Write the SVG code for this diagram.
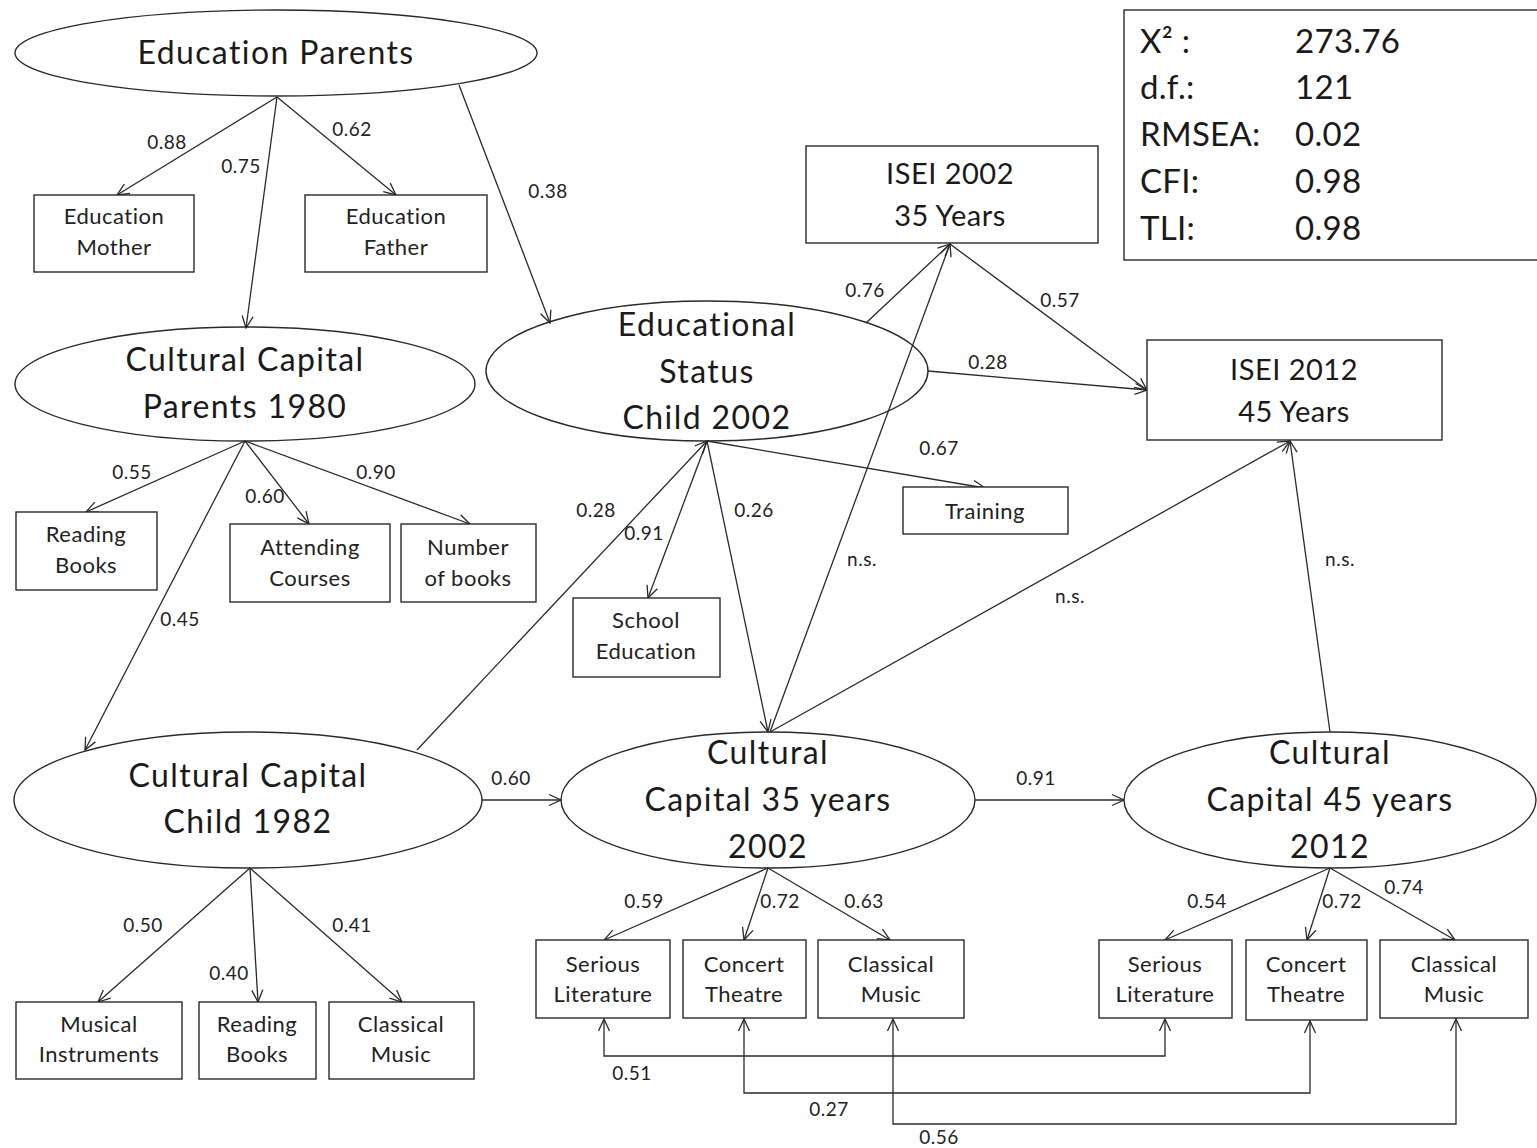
<svg xmlns="http://www.w3.org/2000/svg" width="1537" height="1148" viewBox="0 0 1537 1148">
<defs>
<marker id="ah" viewBox="0 0 14 14" refX="13" refY="7" markerWidth="14" markerHeight="14" markerUnits="userSpaceOnUse" orient="auto-start-reverse">
<path d="M1,1.5 L13,7 L1,12.5" fill="none" stroke="#2a2a2a" stroke-width="1.3"/>
</marker>
<style>
.n{fill:#fff;stroke:#2a2a2a;stroke-width:1.4}
.e{fill:none;stroke:#2a2a2a;stroke-width:1.4}
.big{font-family:Lato,"Open Sans",sans-serif;font-size:32px;letter-spacing:1.4px;fill:#1a1a1a;text-anchor:middle}
.isei{font-family:Lato,"Open Sans",sans-serif;font-size:29px;letter-spacing:0.5px;fill:#1a1a1a;text-anchor:middle}
.box{font-family:Lato,"Open Sans",sans-serif;font-size:22px;letter-spacing:0.5px;fill:#222;text-anchor:middle}
.lab{font-family:Lato,"Open Sans",sans-serif;font-size:19px;letter-spacing:0.5px;fill:#222;text-anchor:middle}
.fit{font-family:Lato,"Open Sans",sans-serif;font-size:33px;letter-spacing:0.3px;fill:#1a1a1a}
.c{fill:none;stroke:#2a2a2a;stroke-width:1.3}
.a{marker-end:url(#ah)}
.b{marker-start:url(#ah);marker-end:url(#ah)}
</style>
</defs>
<rect width="1537" height="1148" fill="#fff"/>

<g id="connectors">
<line class="c a" x1="277" y1="97" x2="117" y2="195"/>
<line class="c a" x1="277" y1="97" x2="396" y2="195"/>
<line class="c a" x1="277" y1="97" x2="246" y2="328"/>
<line class="c a" x1="459" y1="85" x2="550" y2="323"/>
<line class="c a" x1="245" y1="441" x2="86" y2="512"/>
<line class="c a" x1="245" y1="441" x2="309" y2="524"/>
<line class="c a" x1="245" y1="441" x2="470" y2="524"/>
<line class="c a" x1="245" y1="441" x2="85" y2="750"/>
<line class="c a" x1="417" y1="750" x2="707" y2="441"/>
<line class="c a" x1="707" y1="441" x2="648" y2="598"/>
<line class="c a" x1="707" y1="441" x2="768" y2="732"/>
<line class="c a" x1="707" y1="441" x2="985" y2="488"/>
<line class="c a" x1="866" y1="323" x2="950" y2="244"/>
<line class="c a" x1="950" y1="244" x2="1147" y2="390"/>
<line class="c a" x1="928" y1="371" x2="1147" y2="390"/>
<line class="c a" x1="770" y1="732" x2="950" y2="244"/>
<line class="c a" x1="770" y1="732" x2="1290" y2="441"/>
<line class="c a" x1="1330" y1="732" x2="1290" y2="441"/>
<line class="c a" x1="482" y1="800" x2="561" y2="800"/>
<line class="c a" x1="975" y1="800" x2="1124" y2="800"/>
<line class="c a" x1="250" y1="868" x2="98" y2="1002"/>
<line class="c a" x1="250" y1="868" x2="258" y2="1002"/>
<line class="c a" x1="250" y1="868" x2="402" y2="1002"/>
<line class="c a" x1="768" y1="868" x2="604" y2="940"/>
<line class="c a" x1="768" y1="868" x2="744" y2="940"/>
<line class="c a" x1="768" y1="868" x2="890" y2="940"/>
<line class="c a" x1="1330" y1="868" x2="1165" y2="940"/>
<line class="c a" x1="1330" y1="868" x2="1307" y2="940"/>
<line class="c a" x1="1330" y1="868" x2="1455" y2="940"/>
<polyline class="c b" points="604,1019 604,1056 1165,1056 1165,1019"/>
<polyline class="c b" points="744,1019 744,1093 1310,1093 1310,1021"/>
<polyline class="c b" points="893,1019 893,1124 1456,1124 1456,1019"/>
<g class="lab">
<text x="167" y="149">0.88</text>
<text x="352" y="136">0.62</text>
<text x="241" y="173">0.75</text>
<text x="548" y="198">0.38</text>
<text x="132" y="479">0.55</text>
<text x="265" y="503">0.60</text>
<text x="376" y="479">0.90</text>
<text x="180" y="626">0.45</text>
<text x="596" y="517">0.28</text>
<text x="644" y="540">0.91</text>
<text x="754" y="517">0.26</text>
<text x="939" y="455">0.67</text>
<text x="865" y="297">0.76</text>
<text x="1060" y="307">0.57</text>
<text x="988" y="369">0.28</text>
<text x="862" y="566">n.s.</text>
<text x="1070" y="603">n.s.</text>
<text x="1340" y="566">n.s.</text>
<text x="511" y="785">0.60</text>
<text x="1036" y="785">0.91</text>
<text x="143" y="932">0.50</text>
<text x="229" y="980">0.40</text>
<text x="352" y="932">0.41</text>
<text x="644" y="908">0.59</text>
<text x="780" y="908">0.72</text>
<text x="864" y="908">0.63</text>
<text x="1207" y="908">0.54</text>
<text x="1342" y="908">0.72</text>
<text x="1404" y="894">0.74</text>
<text x="632" y="1080">0.51</text>
<text x="829" y="1116">0.27</text>
<text x="939" y="1144">0.56</text>
</g>
</g>

<g id="education-parents"><ellipse class="e" cx="276" cy="53" rx="261" ry="43"/><text class="big" x="276" y="64">Education Parents</text></g>
<g id="education-mother"><rect class="n" x="34" y="195" width="160" height="77"/><text class="box" x="114" y="224">Education</text><text class="box" x="114" y="255">Mother</text></g>
<g id="education-father"><rect class="n" x="305" y="195" width="182" height="77"/><text class="box" x="396" y="224">Education</text><text class="box" x="396" y="255">Father</text></g>
<g id="cc-parents-1980"><ellipse class="e" cx="245" cy="384" rx="230" ry="57"/><text class="big" x="245" y="371">Cultural Capital</text><text class="big" x="245" y="418">Parents 1980</text></g>
<g id="reading-books-parents"><rect class="n" x="16" y="512" width="141" height="78"/><text class="box" x="86" y="542">Reading</text><text class="box" x="86" y="573">Books</text></g>
<g id="attending-courses"><rect class="n" x="230" y="524" width="160" height="78"/><text class="box" x="310" y="555">Attending</text><text class="box" x="310" y="586">Courses</text></g>
<g id="number-of-books"><rect class="n" x="401" y="524" width="135" height="78"/><text class="box" x="468" y="555">Number</text><text class="box" x="468" y="586">of books</text></g>
<g id="educational-status"><ellipse class="e" cx="707" cy="371" rx="221" ry="70"/><text class="big" x="707" y="336">Educational</text><text class="big" x="707" y="383">Status</text><text class="big" x="707" y="429">Child 2002</text></g>
<g id="isei-2002"><rect class="n" x="806" y="146" width="292" height="97"/><text class="isei" x="950" y="184">ISEI 2002</text><text class="isei" x="950" y="226">35 Years</text></g>
<g id="isei-2012"><rect class="n" x="1147" y="340" width="295" height="100"/><text class="isei" x="1294" y="380">ISEI 2012</text><text class="isei" x="1294" y="422">45 Years</text></g>
<g id="training"><rect class="n" x="903" y="487" width="165" height="47"/><text class="box" x="985" y="519">Training</text></g>
<g id="school-education"><rect class="n" x="573" y="598" width="147" height="79"/><text class="box" x="646" y="628">School</text><text class="box" x="646" y="659">Education</text></g>
<g id="cc-child-1982"><ellipse class="e" cx="248" cy="800" rx="234" ry="68"/><text class="big" x="248" y="787">Cultural Capital</text><text class="big" x="248" y="833">Child 1982</text></g>
<g id="musical-instruments"><rect class="n" x="16" y="1002" width="166" height="77"/><text class="box" x="99" y="1032">Musical</text><text class="box" x="99" y="1062">Instruments</text></g>
<g id="reading-books-child"><rect class="n" x="199" y="1002" width="117" height="77"/><text class="box" x="257" y="1032">Reading</text><text class="box" x="257" y="1062">Books</text></g>
<g id="classical-music-child"><rect class="n" x="329" y="1002" width="145" height="77"/><text class="box" x="401" y="1032">Classical</text><text class="box" x="401" y="1062">Music</text></g>
<g id="cc-35"><ellipse class="e" cx="768" cy="800" rx="207" ry="68"/><text class="big" x="768" y="764">Cultural</text><text class="big" x="768" y="811">Capital 35 years</text><text class="big" x="768" y="858">2002</text></g>
<g id="cc-45"><ellipse class="e" cx="1330" cy="800" rx="206" ry="68"/><text class="big" x="1330" y="764">Cultural</text><text class="big" x="1330" y="811">Capital 45 years</text><text class="big" x="1330" y="858">2012</text></g>
<g id="serious-lit-35"><rect class="n" x="536" y="940" width="134" height="78"/><text class="box" x="603" y="972">Serious</text><text class="box" x="603" y="1002">Literature</text></g>
<g id="concert-35"><rect class="n" x="683" y="940" width="123" height="78"/><text class="box" x="744" y="972">Concert</text><text class="box" x="744" y="1002">Theatre</text></g>
<g id="classical-35"><rect class="n" x="818" y="940" width="146" height="78"/><text class="box" x="891" y="972">Classical</text><text class="box" x="891" y="1002">Music</text></g>
<g id="serious-lit-45"><rect class="n" x="1099" y="940" width="133" height="78"/><text class="box" x="1165" y="972">Serious</text><text class="box" x="1165" y="1002">Literature</text></g>
<g id="concert-45"><rect class="n" x="1246" y="940" width="121" height="80"/><text class="box" x="1306" y="972">Concert</text><text class="box" x="1306" y="1002">Theatre</text></g>
<g id="classical-45"><rect class="n" x="1380" y="940" width="148" height="78"/><text class="box" x="1454" y="972">Classical</text><text class="box" x="1454" y="1002">Music</text></g>
<g id="fit-indices"><rect class="n" x="1124" y="10" width="420" height="250"/>
<text class="fit" x="1140" y="53">X² :</text><text class="fit" x="1295" y="53">273.76</text>
<text class="fit" x="1140" y="99">d.f.:</text><text class="fit" x="1295" y="99">121</text>
<text class="fit" x="1140" y="146">RMSEA:</text><text class="fit" x="1295" y="146">0.02</text>
<text class="fit" x="1140" y="193">CFI:</text><text class="fit" x="1295" y="193">0.98</text>
<text class="fit" x="1140" y="240">TLI:</text><text class="fit" x="1295" y="240">0.98</text>
</g>
</svg>
